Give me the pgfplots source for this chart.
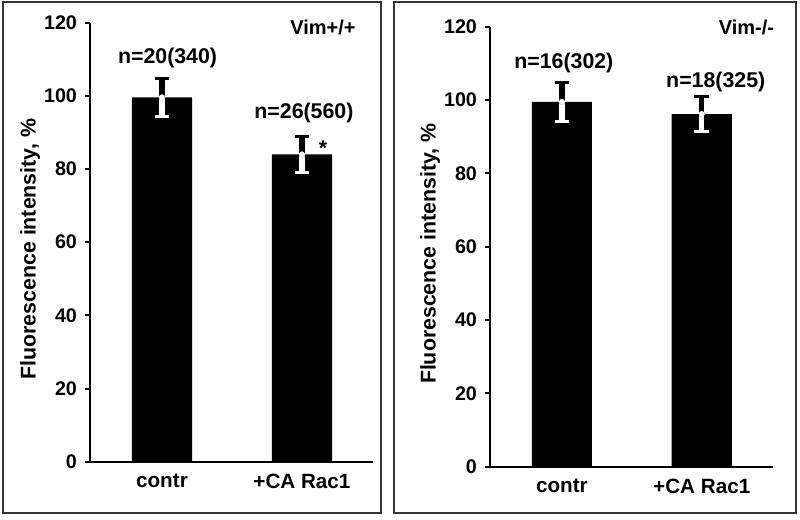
\documentclass[border=0pt]{standalone}
\usepackage{fontspec}
\setmainfont{Liberation Sans}
\usepackage{pgfplots}
\pgfplotsset{compat=1.18}
\newcommand{\fa}{\bfseries\fontsize{15.5}{17}\selectfont}
\newcommand{\fv}{\bfseries\fontsize{15}{17}\selectfont}
\newcommand{\ft}{\bfseries\fontsize{14.8}{16}\selectfont}
\newcommand{\fn}{\bfseries\fontsize{16}{18}\selectfont}
\newcommand{\fl}{\bfseries\fontsize{16}{18}\selectfont}
\pgfplotsset{panel/.style={
  scale only axis, width=212pt, anchor=south west,
  xmin=-0.514, xmax=1.505, ymin=0, ymax=120, clip=false,
  axis x line=bottom, axis y line=left,
  axis line style={-, line width=1.6pt, black},
  ytick={0,20,...,120}, xtick={0,1}, xticklabels={contr,{+CA Rac1}},
  tick align=outside, major tick length=3.75pt,
  tick style={black, line width=1.5pt},
  major x tick style={draw=none},
  /pgf/number format/assume math mode=true,
  yticklabel style={font=\ft, xshift=-2.5pt},
  xticklabel style={font=\fa, yshift=-2pt},
  ylabel={Fluorescence intensity, \%},
  ylabel style={at={(axis description cs:-0.212,0.484)}, anchor=center, font=\fl},
}}
\pgfplotsset{ebp/.style={black, only marks, mark=none, forget plot,
   error bars/.cd, y dir=plus, y explicit,
   error bar style={line width=4pt, black},
   error mark options={rotate=90, mark size=5.5pt, line width=2.5pt, black}},
  ebm/.style={white, only marks, mark=none, forget plot,
   error bars/.cd, y dir=minus, y explicit,
   error bar style={line width=4pt, white},
   error mark options={rotate=90, mark size=5.5pt, line width=2.5pt, white}}}
\begin{document}
\begin{tikzpicture}
\useasboundingbox (0pt,0pt) rectangle (600pt,389.25pt);
\draw[line width=1.5pt, black!80] (2.25pt,4.5pt) rectangle (285.75pt,387.75pt);
\draw[line width=1.5pt, black!80] (295.5pt,4.5pt) rectangle (597pt,387.75pt);

\begin{axis}[panel, height=329.25pt, at={(67.5pt,42.98pt)}]
\addplot[ybar, bar width=0.43, fill=black, draw=none] coordinates {(0,99.6) (1,84.0)};
\addplot[ebp] coordinates {(0,99.6) +- (0,5.2) (1,84.0) +- (0,4.9)};
\addplot[ebm] coordinates {(0,99.6) +- (0,5.2) (1,84.0) +- (0,4.9)};
\node[font=\fn] at (axis cs:0.04,110.4) {n=20(340)};
\node[font=\fn] at (axis cs:1.014,95.3) {n=26(560)};
\node[font=\fn, anchor=north, inner sep=0pt] at (axis cs:1.15,87.9) {*};
\node[font=\fv] at (axis cs:1.15,118.6) {Vim+/+};
\end{axis}

\begin{axis}[panel, height=330pt, at={(367.5pt,39.2pt)}, xmax=1.507]
\addplot[ybar, bar width=0.43, fill=black, draw=none] coordinates {(0,99.5) (1,96.2)};
\addplot[ebp] coordinates {(0,99.5) +- (0,5.3) (1,96.2) +- (0,4.8)};
\addplot[ebm] coordinates {(0,99.5) +- (0,5.3) (1,96.2) +- (0,4.8)};
\node[font=\fn] at (axis cs:0.014,110.1) {n=16(302)};
\node[font=\fn] at (axis cs:1.1,104.9) {n=18(325)};
\node[font=\fv] at (axis cs:1.32,119.9) {Vim-/-};
\end{axis}
\end{tikzpicture}
\end{document}
